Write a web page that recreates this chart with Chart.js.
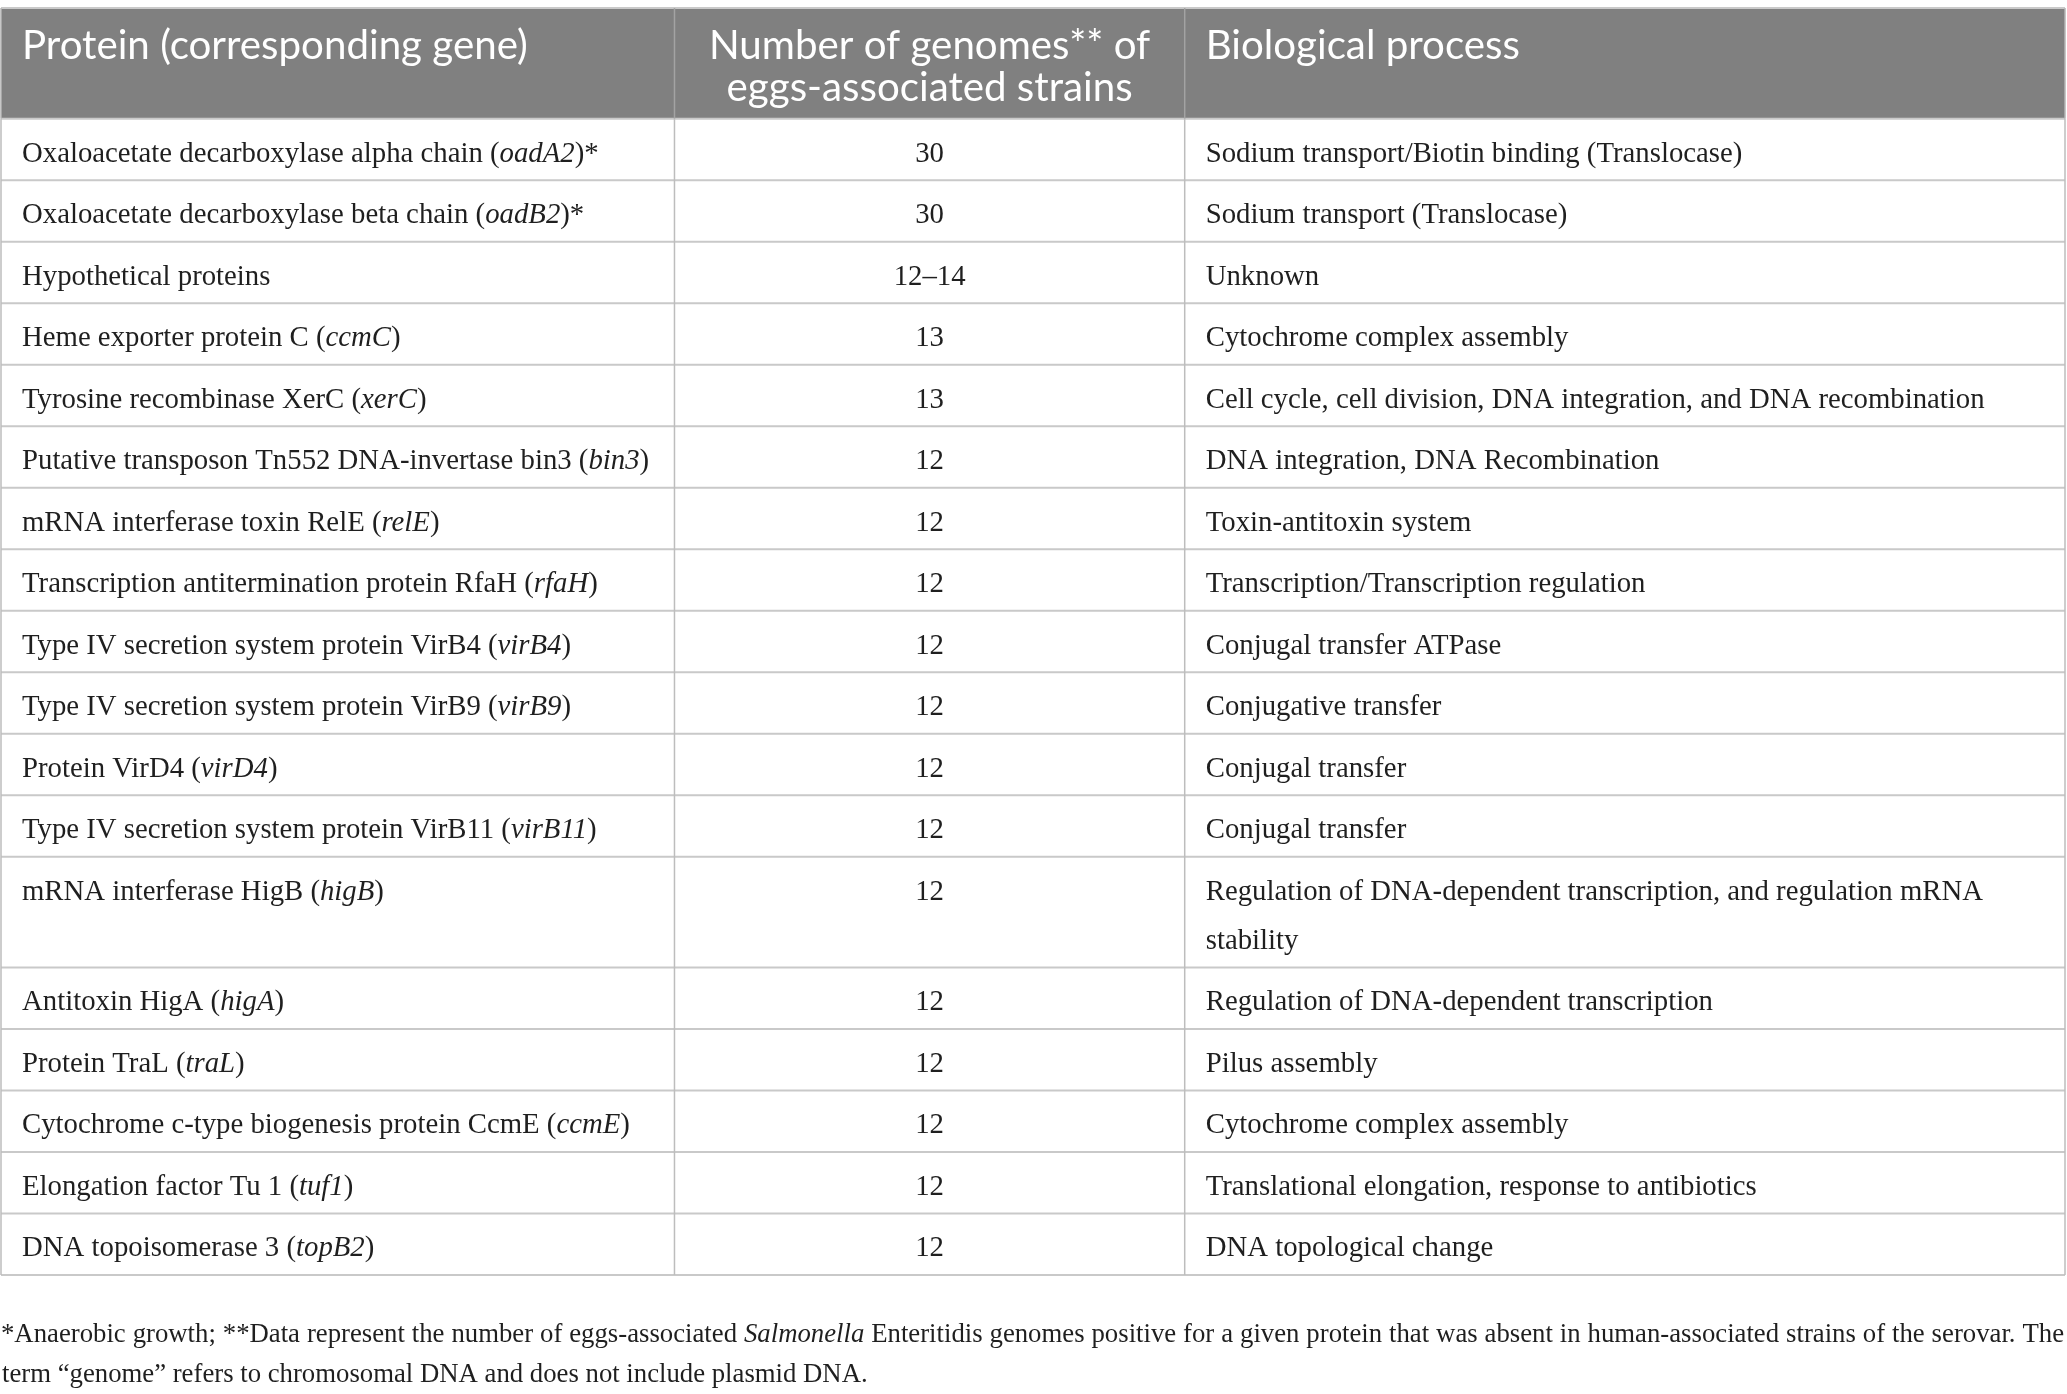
<!DOCTYPE html>
<html><head><meta charset="utf-8">
<script src="https://cdn.jsdelivr.net/npm/chart.js@4.4.1/dist/chart.umd.min.js"></script>
<style>html,body{margin:0;padding:0;background:#fff;overflow:hidden}</style>
</head><body>
<canvas id="c" width="2067" height="1394" style="width:2067px;height:1394px;display:block"></canvas>
<script>
// ---------- DATA ----------
const headers = ["Protein (corresponding gene)", "Number of genomes** of\neggs-associated strains", "Biological process"];
const proteins = [
  "Oxaloacetate decarboxylase alpha chain (_oadA2_)*",
  "Oxaloacetate decarboxylase beta chain (_oadB2_)*",
  "Hypothetical proteins",
  "Heme exporter protein C (_ccmC_)",
  "Tyrosine recombinase XerC (_xerC_)",
  "Putative transposon Tn552 DNA-invertase bin3 (_bin3_)",
  "mRNA interferase toxin RelE (_relE_)",
  "Transcription antitermination protein RfaH (_rfaH_)",
  "Type IV secretion system protein VirB4 (_virB4_)",
  "Type IV secretion system protein VirB9 (_virB9_)",
  "Protein VirD4 (_virD4_)",
  "Type IV secretion system protein VirB11 (_virB11_)",
  "mRNA interferase HigB (_higB_)",
  "Antitoxin HigA (_higA_)",
  "Protein TraL (_traL_)",
  "Cytochrome c-type biogenesis protein CcmE (_ccmE_)",
  "Elongation factor Tu 1 (_tuf1_)",
  "DNA topoisomerase 3 (_topB2_)"
];
const genomes = ["30","30","12\u201314","13","13","12","12","12","12","12","12","12","12","12","12","12","12","12"];
const processes = [
  "Sodium transport/Biotin binding (Translocase)",
  "Sodium transport (Translocase)",
  "Unknown",
  "Cytochrome complex assembly",
  "Cell cycle, cell division, DNA integration, and DNA recombination",
  "DNA integration, DNA Recombination",
  "Toxin-antitoxin system",
  "Transcription/Transcription regulation",
  "Conjugal transfer ATPase",
  "Conjugative transfer",
  "Conjugal transfer",
  "Conjugal transfer",
  "Regulation of DNA-dependent transcription, and regulation mRNA stability",
  "Regulation of DNA-dependent transcription",
  "Pilus assembly",
  "Cytochrome complex assembly",
  "Translational elongation, response to antibiotics",
  "DNA topological change"
];
const footnoteLines = [
  "*Anaerobic growth; **Data represent the number of eggs-associated _Salmonella_ Enteritidis genomes positive for a given protein that was absent in human-associated strains of the serovar. The",
  "term \u201cgenome\u201d refers to chromosomal DNA and does not include plasmid DNA."
];

// ---------- LAYOUT / STYLE ----------
const colEdges = [0, 0.3263, 0.5735, 1];
const PAD = 21;
const AREA_W = 2064;
const SERIF = '"Liberation Serif", "DejaVu Serif", serif';
const SANS = 'Lato, "Open Sans", sans-serif';
const HEADER_BG = '#808080';
const TEXT = '#1f1f1f';

const mctx = document.createElement('canvas').getContext('2d');
function parse(str){ return str.split('_').map((t,i)=>({t, it: i%2===1})).filter(s=>s.t.length); }
function fontStr(size, fam, it){ return (it?'italic ':'') + size.toFixed(2) + 'px ' + fam; }
function richWidth(ctx, segs, size, fam){ let w=0; for(const s of segs){ ctx.font=fontStr(size,fam,s.it); w+=ctx.measureText(s.t).width; } return w; }
function fit(str, target, fam){ return 100*target/richWidth(mctx, parse(str), 100, fam); }

const bodySize = fit(proteins[0], 577, SERIF);
const headSize = fit(headers[0], 506, SANS);
const footSize = fit(footnoteLines[1], 866, SERIF);

function wrap(text, maxW, size, fam){
  mctx.font = fontStr(size, fam, false);
  const words = text.split(' '); const lines=[]; let cur='';
  for(const w of words){
    const t = cur ? cur+' '+w : w;
    if(mctx.measureText(t).width > maxW && cur){ lines.push(cur); cur=w; } else cur=t;
  }
  if(cur) lines.push(cur);
  return lines;
}
const col3Max = (colEdges[3]-colEdges[2])*AREA_W - 2*PAD;
const processLines = processes.map(p => wrap(p, col3Max, bodySize, SERIF));

const HEADER_UNITS = 1.8;
const LINE_UNITS = 0.8;
const rowUnits = processLines.map(l => 1 + LINE_UNITS*(l.length-1));
const rowTops = []; { let acc = HEADER_UNITS; for(const u of rowUnits){ rowTops.push(acc); acc+=u; } }
const TOTAL = HEADER_UNITS + rowUnits.reduce((a,b)=>a+b,0);

function drawRich(ctx, str, x, y, size, fam, align){
  const segs = parse(str);
  let w = richWidth(ctx, segs, size, fam);
  let cx = align==='center' ? x - w/2 : x;
  ctx.textAlign='left';
  for(const s of segs){ ctx.font=fontStr(size,fam,s.it); ctx.fillText(s.t, cx, y); cx += ctx.measureText(s.t).width; }
}
function drawJustified(ctx, str, x0, x1, y, size, fam){
  const segs = parse(str); const words=[]; let cur=null;
  for(const s of segs){
    const parts = s.t.split(' ');
    parts.forEach((p,j)=>{
      if(j>0 || !cur){ cur=[]; words.push(cur); }
      if(p.length) cur.push({t:p,it:s.it});
    });
  }
  const ws = words.filter(w=>w.length);
  const widths = ws.map(w=>richWidth(ctx,w,size,fam));
  const sum = widths.reduce((a,b)=>a+b,0);
  const gap = (x1-x0-sum)/(ws.length-1);
  let cx=x0; ctx.textAlign='left';
  ws.forEach((w,i)=>{
    let px=cx;
    for(const s of w){ ctx.font=fontStr(size,fam,s.it); ctx.fillText(s.t,px,y); px+=ctx.measureText(s.t).width; }
    cx += widths[i]+gap;
  });
}

const tablePlugin = {
  id:'tablePlugin',
  afterDatasetsDraw(chart){
    const ctx = chart.ctx, xs = chart.scales.x, ys = chart.scales.y;
    const X = v=>xs.getPixelForValue(v), Y = v=>ys.getPixelForValue(v);
    ctx.save();
    // header background
    ctx.fillStyle = HEADER_BG;
    ctx.fillRect(X(0), Y(0), X(1)-X(0), Y(HEADER_UNITS)-Y(0));
    // horizontal lines
    ctx.strokeStyle = '#c9c9c9'; ctx.lineWidth = 2;
    const bounds = [0, ...rowTops, TOTAL];
    bounds.forEach(b=>{ ctx.beginPath(); ctx.moveTo(X(0), Y(b)); ctx.lineTo(X(1), Y(b)); ctx.stroke(); });
    // vertical lines
    ctx.lineWidth = 1.5;
    colEdges.forEach((c,i)=>{
      const inner = i>0 && i<colEdges.length-1;
      ctx.strokeStyle = inner ? '#a3a3a3' : '#b5b5b5';
      ctx.beginPath(); ctx.moveTo(X(c), Y(0)); ctx.lineTo(X(c), Y(HEADER_UNITS)); ctx.stroke();
      ctx.strokeStyle = '#bdbdbd';
      ctx.beginPath(); ctx.moveTo(X(c), Y(HEADER_UNITS)); ctx.lineTo(X(c), Y(TOTAL)); ctx.stroke();
    });
    // header text
    ctx.fillStyle = '#ffffff'; ctx.textBaseline = 'middle';
    headers.forEach((h,i)=>{
      h.split('\n').forEach((ln,k)=>{
        const y = Y(0.6 + k*0.67) + 1.5;
        if(i===1) drawRich(ctx, ln, X((colEdges[1]+colEdges[2])/2), y, headSize, SANS, 'center');
        else drawRich(ctx, ln, X(colEdges[i])+PAD, y, headSize, SANS, 'left');
      });
    });
    // body text
    ctx.fillStyle = TEXT;
    const DY = 4.5;
    proteins.forEach((p,i)=>{
      const y = Y(rowTops[i]+0.5)+DY;
      drawRich(ctx, p, X(colEdges[0])+PAD, y, bodySize, SERIF, 'left');
      processLines[i].forEach((ln,k)=>{
        drawRich(ctx, ln, X(colEdges[2])+PAD, Y(rowTops[i]+0.5+k*LINE_UNITS)+DY, bodySize, SERIF, 'left');
      });
    });
    // genome counts through dataset points
    const meta = chart.getDatasetMeta(0);
    meta.data.forEach((pt,i)=>{ drawRich(ctx, genomes[i], pt.x, pt.y+DY, bodySize, SERIF, 'center'); });
    // footnote
    const fb = chart.chartArea.bottom;
    drawJustified(ctx, footnoteLines[0], 1, 2064, fb+60, footSize, SERIF);
    drawRich(ctx, footnoteLines[1], 2, fb+100, footSize, SERIF, 'left');
    ctx.restore();
  }
};

new Chart(document.getElementById('c'), {
  type: 'scatter',
  data: { datasets: [{
    label: 'Number of genomes',
    data: genomes.map((g,i)=>({ x: (colEdges[1]+colEdges[2])/2, y: rowTops[i]+0.5 })),
    pointRadius: 0, pointHoverRadius: 0
  }]},
  options: {
    responsive: false, animation: false, devicePixelRatio: 1,
    layout: { padding: { left: 1, right: 2, top: 8, bottom: 119 } },
    plugins: { legend: { display: false }, tooltip: { enabled: false } },
    events: [],
    scales: {
      x: { type: 'linear', min: 0, max: 1, display: false },
      y: { type: 'linear', min: 0, max: TOTAL, reverse: true, display: false }
    }
  },
  plugins: [tablePlugin]
});
</script>
</body></html>
